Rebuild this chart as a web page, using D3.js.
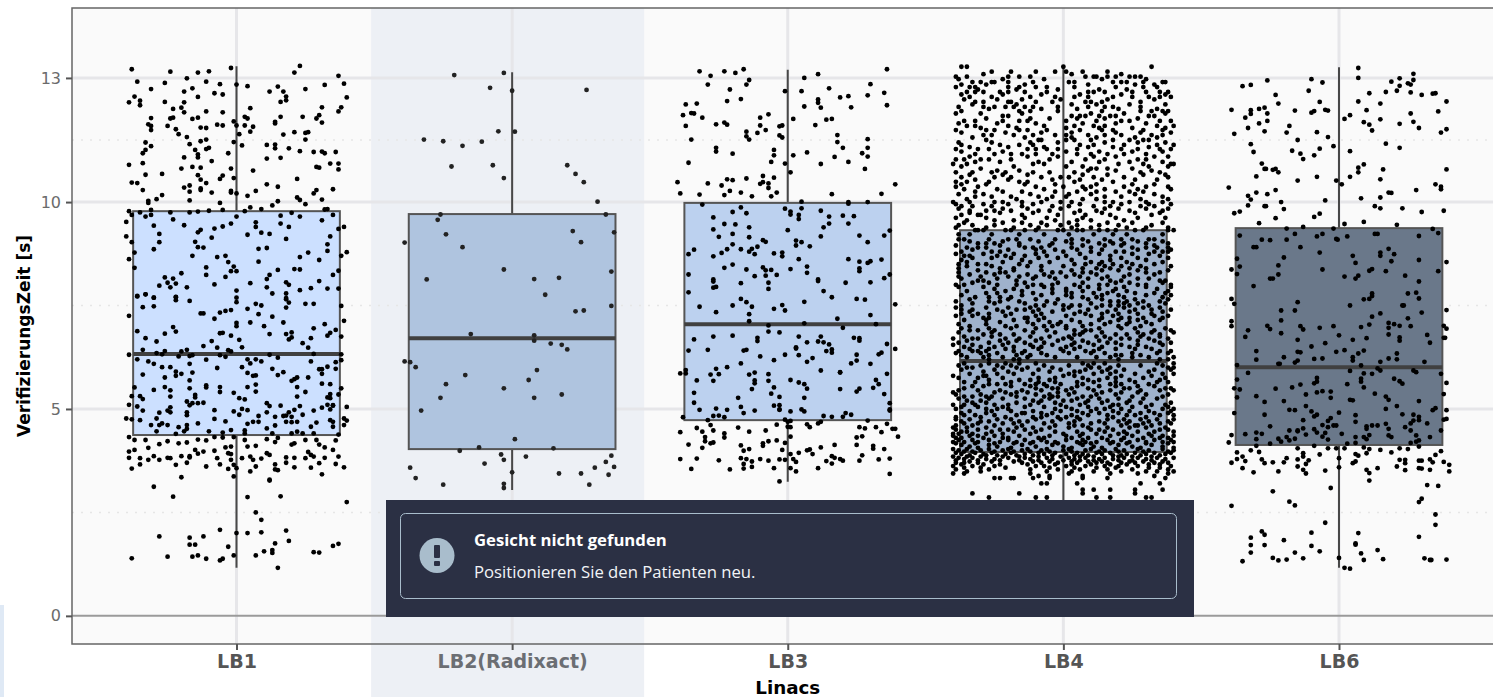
<!DOCTYPE html>
<html>
<head>
<meta charset="utf-8">
<script src="https://cdn.jsdelivr.net/npm/d3@7"></script>
<style>
  html, body { margin: 0; padding: 0; background: #fff; overflow: hidden; }
</style>
</head>
<body>
<div id="chart"></div>
<script>
const categories = ["LB1", "LB2(Radixact)", "LB3", "LB4", "LB6"];
const boxColors = ["#cce0ff", "#afc4df", "#bcd1ef", "#9fb2cc", "#6a788a"];
const lowerQuartiles = [4.37, 4.03, 4.73, 3.96, 4.13];
const medians = [6.33, 6.71, 7.05, 6.16, 6.01];
const upperQuartiles = [9.78, 9.71, 9.98, 9.32, 9.37];
const whiskerLows = [1.16, 3.04, 3.24, 1.2, 1.16];
const whiskerHighs = [13.28, 13.14, 13.2, 13.24, 13.26];
const majorTicks = [0, 5, 10, 13];
const minorTicks = [2.5, 7.5, 11.5];
const yTitle = "VerifizierungsZeit [s]";
const xTitle = "Linacs";
const toastTitle = "Gesicht nicht gefunden";
const toastText = "Positionieren Sie den Patienten neu.";

// [jitter in category widths, seconds]
const pointsLB1 = [[-.38,13.21],[-.24,13.15],[-.14,13.13],[-.10,13.16],[-.02,13.24],[.23,13.29],[.21,13.13],[.37,13.05],[.39,12.86],[-.36,12.91],[-.26,12.88],[-.18,12.99],[-.11,12.91],[-.06,12.85],[0,12.84],[.04,12.8],[-.31,12.73],[-.16,12.75],[-.19,12.67],[-.08,12.63],[-.05,12.6],[.12,12.67],[.15,12.79],[.17,12.67],[.25,12.73],[.32,12.83],[.18,12.55],[.18,12.46],[.16,12.42],[.40,12.53],[-.37,12.55],[-.39,12.41],[-.35,12.45],[-.35,12.34],[-.26,12.42],[-.19,12.41],[-.14,12.54],
[-.23,12.25],[-.20,12.28],[-.19,12.17],[-.11,12.19],[-.05,12.17],[.05,12.27],[.38,12.29],[.37,12.19],[.31,12.29],[.24,12.06],[.30,12.1],[.29,12.02],[.31,11.92],[.16,12.06],[.14,11.94],[.14,11.9],[.03,12.06],[.04,12.02],[-.01,11.95],[0,11.85],[.03,11.85],[.06,11.82],[.05,11.7],[.01,11.64],[.21,11.69],[.25,11.67],[.26,11.69],[.17,11.63],[.25,11.51],[-.31,12.03],[-.32,11.88],[-.31,11.84],[-.31,11.74],[-.24,12.02],[-.23,12.04],[-.25,11.84],[-.22,11.76],[-.21,11.64],[-.16,12.01],[-.14,12.04],[-.13,11.8],[-.11,11.79],[-.07,11.87],[-.05,11.85],[-.18,11.57],[-.13,11.47],[-.11,11.51],[-.17,11.4],[-.33,11.44],[-.31,11.35],[-.33,11.26],[-.34,11.18],[-.15,11.26],[-.11,11.28],[-.1,11.31],[-.01,11.45],[.02,11.37],[-.03,11.18],[-.14,11.15],[-.14,11.08],[-.19,11.08],[-.09,10.99],[-.39,10.9],[-.34,10.94],[-.2,10.81],[-.16,10.85],[-.13,10.83],[-.02,10.81],[.11,11.38],[.14,11.39],[.14,11.3],[.19,11.3],[.23,11.23],[.28,11.21],[.31,11.22],[.32,11.18],[.36,11.21],[.11,11.05],[.16,11.07],[.29,10.85],[.3,10.83],[.34,10.93],[.37,10.93],[.37,10.79],[.06,10.76],[-.27,10.68],[-.33,10.66],[-.38,10.47],[-.36,10.46],[-.34,10.29],[-.14,10.65],[-.13,10.54],[-.11,10.46],[-.06,10.56],[-.05,10.64],[-.01,10.58],[-.19,10.35],[-.17,10.4],[-.17,10.25],[-.13,10.29],[-.13,10.33],[-.09,10.23],[-.27,10.17],[-.29,10.07],[-.32,10.03],[-.32,9.98],[-.17,10.04],[-.02,10.27],[-.02,10.23],[0,10.21],[.11,10.43],[.15,10.37],[.07,10.27],[.04,10.15],[.22,10.56],[.35,10.31],[.29,10.29],[.28,10.21],[.22,10.11],[.23,10.05],[.31,10.06],[.25,9.95],[.15,10.02],[.13,9.92],[-.06,9.98],[.05,9.87],[.09,9.83],
[-.39,9.78],[-.35,9.75],[-.31,9.81],[-.24,9.75],[-.17,9.75],[-.14,9.77],[-.1,9.79],[-.05,9.81],[.03,9.78],[.32,9.82],[.33,9.83],[.2,9.74],[-.38,9.69],[-.33,9.65],[-.31,9.69],[-.23,9.58],[0,9.65],[.16,9.67],[.23,9.65],[.35,9.69],[-.4,9.52],[.31,9.56],[-.02,9.48],[.07,9.51],[.16,9.48],[-.3,9.43],[-.19,9.44],[-.05,9.41],[-.08,9.36],[.07,9.4],[.19,9.4],[.37,9.35],[.39,9.4],[-.13,9.33],[-.14,9.27],[.09,9.26],[.12,9.23],[-.28,9.23],[.04,9.21],[-.4,9.17],[-.09,9.14],[.18,9.11],[.34,9.17],[-.38,9.03],[-.28,9.03],[-.15,9.04],[.33,8.98],[-.14,8.91],[-.12,8.9],[-.3,8.86],[.08,8.87],[.11,8.89],[.33,8.82],[.4,8.79],[.26,8.78],[-.37,8.78],[-.16,8.7],[-.07,8.67],[-.04,8.7],[.23,8.67],[.38,8.7],[-.39,8.62],[.3,8.6],[-.03,8.55],[.08,8.56],[-.01,8.44],[-.37,8.41],[-.11,8.42],[.21,8.38],[.23,8.37],[-.02,8.33],[0,8.33],[.15,8.36],[.37,8.34],[-.2,8.28],[-.11,8.24],[.35,8.24],[.12,8.24],[-.26,8.18],[-.23,8.15],[-.04,8.19],[.11,8.14],[-.25,8.05],[-.22,8.03],[-.08,8.01],[.05,8.04],[.3,8.09],[.18,8.06],[.19,8.0],[-.28,7.98],[-.24,7.94],[-.18,7.94],[.11,7.94],[.27,7.92],[.33,7.91],[.37,7.91],[.23,7.87],[0,7.86],[.13,7.79],[.18,7.79],[-.33,7.77],[-.36,7.72],[-.3,7.69],[-.22,7.71],[0,7.69],[.18,7.68],
[-.36,7.73],[-.33,7.77],[-.3,7.69],[-.22,7.7],[-.22,7.63],[0,7.58],[.18,7.65],[.19,7.57],[-.34,7.46],[-.3,7.48],[-.17,7.61],[.07,7.54],[.09,7.5],[.25,7.54],[.28,7.54],[.18,7.45],[.04,7.42],[-.02,7.39],[-.04,7.37],[-.06,7.33],[-.13,7.31],[-.12,7.31],[.08,7.29],[.13,7.23],[-.39,7.25],[.38,7.49],[.39,7.13],[-.08,7.18],[0,7.08],[0,7.0],[.05,7.09],[.17,7.09],[.32,7.05],[.1,7.0],[.28,6.95],[-.23,6.98],[-.22,6.87],[-.26,6.82],[-.36,6.88],[-.06,6.83],[-.05,6.84],[-.02,6.77],[.01,6.67],[.12,6.81],[.18,6.81],[.2,6.85],[.2,6.73],[.19,6.68],[.34,6.84],[.33,6.77],[.36,6.91],[.38,6.75],[.27,6.71],[.24,6.59],[-.33,6.71],[-.29,6.63],[-.09,6.64],[-.12,6.52],[-.07,6.48],[.02,6.49],[.26,6.48],[-.34,6.43],[-.26,6.4],[-.29,6.35],[-.27,6.32],[-.2,6.39],[-.18,6.43],[-.16,6.3],[-.21,6.27],[-.03,6.42],[-.02,6.39],[-.06,6.3],[-.04,6.26],[.12,6.31],[.15,6.24],[-.39,6.31],[.28,6.33],[.38,6.32],[-.17,6.28],
[-.36,6.2],[-.32,6.15],[-.3,6.09],[-.11,6.19],[.04,6.2],[.07,6.2],[.05,6.1],[.09,6.15],[.27,6.15],[.36,6.13],[.38,6.18],[-.17,6.09],[-.27,6.01],[-.24,6.01],[-.07,5.99],[.02,6.01],[.13,5.97],[.33,6.02],[.36,5.97],[.3,5.96],[.31,5.96],[-.22,5.9],[-.2,5.85],[-.16,5.88],[.04,5.87],[.17,5.89],[.31,5.85],[-.34,5.83],[-.22,5.8],[.06,5.8],[.07,5.81],[.15,5.82],[-.26,5.76],[-.17,5.69],[.26,5.76],[.22,5.76],[.21,5.72],[.2,5.68],[.31,5.61],[.34,5.6],[.07,5.59],[-.11,5.57],[-.11,5.52],[-.37,5.52],[-.06,5.53],[-.26,5.53],[.04,5.53],[-.3,5.46],[-.17,5.5],[.22,5.53],[-.24,5.45],[-.06,5.41],[.07,5.42],[.25,5.41],[.38,5.5],[-.01,5.39],[-.15,5.34],[-.38,5.31],[-.35,5.31],[-.34,5.24],[-.24,5.3],[-.15,5.28],[.22,5.3],[.34,5.36],[.37,5.35],[.01,5.26],[.03,5.23],[.33,5.28],[.34,5.26],[-.18,5.18],[-.12,5.15],[-.16,5.14],[-.14,5.14],[-.17,5.09],[.11,5.14],[.12,5.07],[.16,5.08],[.23,5.07],[-.39,5.1],[.33,5.1],[.35,5.08],[.35,5.09],[.31,5.03],[-.36,5.06],[.4,5.05],[-.24,5.04],[.34,4.99],[-.25,4.96],[-.24,4.92],[-.34,4.96],[-.08,4.97],[-.01,4.94],[.02,5.0],[.04,4.97],[.11,4.92],[.21,4.98],[.28,4.96],[-.28,4.91],[-.18,4.92],[-.18,4.85],[.01,4.86],[.19,4.92],[.24,4.86],[.08,4.83],[.14,4.81],[.17,4.83],[.18,4.84],[.2,4.81],[-.4,4.77],[-.38,4.75],[-.35,4.73],[-.29,4.77],[-.08,4.76],[.34,4.73],[.39,4.77],[.06,4.69],[.08,4.69],[.18,4.69],[.2,4.68],[.22,4.69],[-.04,4.7],[.35,4.69],[.4,4.72],[-.27,4.65],[-.14,4.65],[.04,4.64],[.29,4.67],[-.31,4.61],[-.28,4.61],[-.25,4.61],[-.18,4.61],[.14,4.6],[.39,4.61],[-.21,4.56],[-.18,4.52],[.27,4.57],[.35,4.57],[.11,4.53],[-.02,4.49],[.03,4.48],[-.29,4.46],[-.1,4.46],[-.19,4.46],[-.22,4.4],[-.05,4.43],[.03,4.41],[.13,4.41],[.2,4.41],[.22,4.45],[.24,4.41],[.28,4.41],[.37,4.38],
[-.39,4.32],[-.37,4.25],[-.33,4.25],[-.14,4.26],[-.11,4.24],[-.08,4.32],[-.05,4.31],[-.01,4.32],[.03,4.25],[.11,4.27],[.14,4.2],[.15,4.3],[.25,4.25],[.29,4.25],[.36,4.24],[-.28,4.15],[-.25,4.22],[-.21,4.17],[-.18,4.19],[.2,4.14],[.21,4.17],[.3,4.14],[-.32,4.06],[-.02,4.09],[.04,4.09],[.07,4.11],[.32,4.07],[-.39,3.97],[-.37,4.01],[-.15,4.01],[-.12,3.97],[-.08,3.99],[-.04,4.07],[.35,4.01],[-.03,3.93],[-.02,3.91],[.11,3.93],[.12,3.89],[.26,3.96],[.27,3.89],[-.39,3.82],[-.35,3.81],[-.3,3.86],[-.32,3.77],[-.28,3.77],[-.25,3.82],[-.24,3.81],[-.2,3.86],[-.17,3.83],[-.17,3.86],[-.14,3.92],[-.07,3.81],[-.02,3.77],[.02,3.81],[.05,3.85],[.06,3.77],[.09,3.8],[.18,3.83],[.21,3.82],[.25,3.81],[.28,3.85],[.32,3.82],[.37,3.85],[-.35,3.66],[-.22,3.65],[-.18,3.7],[-.11,3.61],[-.06,3.66],[-.01,3.65],[.07,3.61],[.14,3.66],[.18,3.7],[.21,3.59],[.27,3.58],[.3,3.69],[.36,3.67],[.39,3.59],[-.38,3.56],[-.03,3.55],[0,3.57],[.05,3.49],[.14,3.54],[.15,3.52],[.31,3.42],[-.2,3.35],[-.01,3.37],[.12,3.29],[-.3,3.12],[-.23,2.88],[.04,2.87],[.16,2.89],
[.4,2.75],[.12,3.27],[.07,2.5],[.09,2.32],[-.06,2.08],[.18,2.06],[-.28,1.92],[-.17,1.89],[-.12,1.92],[0,2.0],[.04,2.0],[.09,2.02],[.19,1.81],[.14,1.75],[-.17,1.72],[-.15,1.72],[-.03,1.67],[.37,1.74],[.35,1.69],[.1,1.56],[.13,1.59],[.13,1.52],[.28,1.54],[.3,1.53],[-.25,1.43],[-.16,1.43],[-.14,1.46],[-.11,1.38],[-.01,1.46],[.07,1.46],[-.38,1.39],[-.05,1.38],[-.06,1.34],[.15,1.16]];

const pointsLB2 = [[-.21,13.07],[-.03,13.12],[-.08,12.76],[0,12.69],[.27,12.71],[-.05,11.71],[.01,11.70],[-.32,11.51],[-.25,11.47],[-.18,11.36],[-.11,11.46],[-.22,10.86],[-.07,10.89],[-.03,10.58],[.2,10.89],[.23,10.68],[.26,10.48],[.31,10.01],[-.26,9.70],[.34,9.70],[-.27,9.57],[-.24,9.22],[.22,9.30],[.37,9.27],[-.39,9.02],[.25,9.03],[-.18,8.91],[-.03,8.37],[.36,8.32],[-.31,8.13],[.08,8.14],[.17,8.17],[.12,7.76],[.36,7.49],[.23,7.36],[.26,7.38],[-.15,6.81],[.08,6.78],[.08,6.65],[.14,6.58],[.18,6.55],[.2,6.44],[-.39,6.15],[-.37,6.13],[-.35,6.01],[.09,5.94],[-.17,5.82],[.06,5.70],[-.24,5.60],[-.03,5.50],[-.26,5.27],[.08,5.27],[.18,5.35],[-.33,4.96],[.01,4.27],[-.19,3.99],[-.12,4.07],[.15,4.05],[-.04,3.90],[.05,3.85],[.36,3.87],[-.37,3.58],[-.35,3.33],[-.25,3.17],[-.10,3.68],[-.03,3.77],[0,3.47],[-.03,3.19],[-.03,3.09],[.17,3.44],[.25,3.44],[.30,3.58],[.34,3.72],[.37,3.60],[.35,3.41],[.28,3.17]];

const pointsLB3 = [[-.32,13.16],[-.28,13.05],[-.23,13.16],[-.19,13.12],[-.16,13.21],[-.14,12.95],[-.15,12.84],[-.29,12.84],[-.21,12.72],[-.22,12.44],[-.17,12.49],[-.01,12.68],[.06,13.0],[.11,13.09],[.36,13.21],[.3,12.85],[.15,12.75],[.05,12.68],[.19,12.53],[.22,12.56],[.29,12.58],[.35,12.64],[.36,12.34],[.11,12.48],[.11,12.4],[.12,12.28],[.06,12.31],[.23,12.29],[-.37,12.36],[-.33,12.38],[-.38,12.1],[-.35,12.15],[-.34,12.14],[-.31,12.04],[-.37,11.84],[-.26,11.88],[-.23,11.92],[-.22,11.87],[-.1,12.04],[-.07,12.12],[-.1,11.85],[-.08,11.74],[-.03,11.83],[-.02,11.85],[.02,12.01],[.14,11.99],[.16,12.01],[.1,11.86],[-.15,11.7],[-.15,11.59],[-.11,11.67],[-.14,11.51],[-.03,11.61],[-.02,11.56],[-.35,11.51],[.18,11.62],[.18,11.45],[.29,11.52],[.2,11.31],[.29,11.31],[-.26,11.31],[-.26,11.22],[-.2,11.17],[-.05,11.26],[-.05,11.13],[.07,11.2],[.27,11.18],[.29,11.1],[.02,11.13],[.17,11.09],[-.06,10.97],[-.01,10.93],[.22,10.97],[.12,10.92],[-.36,10.95],[.28,10.8],[.01,10.72],[-.15,10.57],[-.22,10.55],[-.2,10.53],[-.09,10.63],[-.05,10.59],[-.09,10.48],[-.1,10.44],[-.07,10.45],[-.07,10.34],[-.4,10.48],[-.29,10.45],[-.24,10.4],[-.21,10.27],[-.23,10.17],[.39,10.43],[-.17,10.23],[-.04,10.23],[-.06,10.14],[-.13,10.14],[-.39,10.21],[-.32,10.18],[.16,10.19],[.34,10.2],[.05,10.01],[.22,10.0],[.29,10.0],[-.31,9.94],[-.17,9.87],[.22,9.96],[-.01,9.84],[.05,9.85],[-.2,9.76],[-.15,9.73],[.01,9.77],[.01,9.7],[.04,9.69],[.12,9.79],[.15,9.65],[.2,9.67],[.24,9.66],[-.27,9.63],[.04,9.59],[-.23,9.47],[-.19,9.46],[.15,9.48],[.22,9.48],[-.14,9.39],[.13,9.39],[-.27,9.34],[0,9.32],[.37,9.31],[-.2,9.23],[-.25,9.16],[-.14,9.15],[.12,9.17],[.26,9.19],[.35,9.19],[-.09,9.08],[-.08,9.04],[.03,9.07],[.05,9.03],[.29,9.03],[-.2,8.98],[.03,8.95],[.08,8.93],[-.11,8.92],[-.34,8.85],[-.22,8.86],[-.17,8.86],[-.13,8.87],[-.14,8.8],[-.12,8.74],[-.24,8.77],[-.05,8.76],[-.02,8.78],[-.02,8.69],[-.36,8.74],[-.27,8.69],[.04,8.62],[.22,8.62],[.26,8.56],[.29,8.53],[.3,8.57],[.34,8.61],[-.2,8.49],[-.23,8.41],[-.15,8.37],[-.09,8.42],[-.08,8.35],[-.06,8.36],[.01,8.38],[.07,8.44],[.07,8.29],[.26,8.4],[.26,8.33],[-.36,8.25],[-.12,8.21],[-.08,8.22],[-.04,8.24],[.37,8.25],[.35,8.16],[.11,8.13],[-.27,8.13],
[-.27,8.08],[-.17,8.04],[-.07,8.05],[.11,8.09],[.21,8.05],[.3,8.06],[-.27,7.93],[-.26,7.95],[-.07,7.9],[-.36,7.82],[.13,7.85],[.16,7.7],[-.17,7.66],[.25,7.66],[.28,7.64],[-.15,7.58],[.06,7.59],[-.13,7.47],[-.2,7.5],[-.32,7.47],[-.02,7.51],[-.05,7.42],[-.01,7.38],[.39,7.53],[-.26,7.34],[-.14,7.29],[.3,7.27],[.18,7.18],[-.14,7.12],[.06,7.07],[.32,7.05],[-.07,7.02],[.2,6.96],[-.07,6.87],[-.03,6.85],[-.34,6.68],[-.27,6.75],[-.2,6.77],[-.11,6.72],[-.11,6.64],[.04,6.75],[.12,6.75],[.07,6.61],[.11,6.63],[.13,6.61],[.15,6.56],[.24,6.72],[.26,6.71],[.26,6.65],[.36,6.57],[.39,6.45],[.03,6.49],[.03,6.46],[.14,6.4],[.16,6.44],[.16,6.36],[-.36,6.41],[-.29,6.43],[-.16,6.41],[-.15,6.43],[-.01,6.31],[.04,6.3],[-.1,6.27],[.34,6.36],[.33,6.32],[.25,6.31],[-.05,6.18],[.07,6.14],[.09,6.23],[.25,6.17],[.23,6.1],[.3,6.09],[-.17,6.1],[-.22,6.01],[-.26,5.97],[.12,5.93],[-.39,5.86],[-.37,5.94],[-.37,5.86],[-.28,5.83],[-.25,5.84],[-.12,5.88],[-.14,5.83],[-.07,5.84],[.19,5.89],[.19,5.88],[.36,5.85],[-.33,5.69],[-.27,5.68],[-.12,5.69],[-.12,5.62],[-.07,5.68],[.01,5.7],[.04,5.64],[.06,5.6],[.32,5.7],[.33,5.6],[.31,5.51],[.07,5.49],[-.05,5.52],[.19,5.48],[.26,5.49],[.25,5.42],[-.13,5.48],[-.34,5.39],[-.06,5.37],[.35,5.36],[-.18,5.27],[-.03,5.29],[.06,5.27],[-.34,5.15],[.37,5.14],[-.05,5.08],[-.17,5.05],[-.03,5.09],[-.03,4.99],[-.03,4.98],[-.26,5.01],[-.22,4.98],[-.32,4.98],[-.12,4.96],[.05,4.99],[.06,4.94],[.01,4.94],[.37,4.99],[.37,4.96],[-.16,4.9],[-.27,4.83],[-.25,4.84],[-.23,4.8],[.13,4.83],[.16,4.81],[.21,4.9],[.2,4.81],[.23,4.86],[-.38,4.8],[-.29,4.73],[-.01,4.74],[.01,4.71],[.29,4.72],[0,4.69],[-.04,4.62],[-.28,4.61],[.07,4.63],[.11,4.65],[.12,4.69],[.36,4.64],[-.33,4.54],[-.18,4.55],[0,4.57],[.01,4.56],[.08,4.56],[.26,4.56],[.32,4.56],[-.31,4.45],[-.27,4.48],[-.14,4.45],[-.08,4.48],[-.39,4.44],[.28,4.53],[.34,4.44],[.38,4.52],[.39,4.52],[-.23,4.41],[.4,4.33],[-.3,4.32],[-.23,4.31],[.01,4.33],[.25,4.31],[.27,4.34],[-.3,4.22],[-.28,4.17],[-.27,4.19],[-.04,4.24],[-.07,4.22],[-.09,4.17],[-.01,4.18],[-.36,4.14],[-.17,4.12],[-.09,4.11],[.17,4.13],[.25,4.13],[.31,4.11],[-.31,4.06],[-.16,3.99],[-.14,4.03],[-.02,4.01],[.12,4.07],[.31,4.04],[.35,4.03],[.07,4.0],[.08,4.02],[.09,3.91],[.01,3.91],[.04,3.94],[.27,3.88],[-.39,3.79],[-.33,3.8],[-.25,3.76],[-.17,3.81],[-.15,3.79],[-.13,3.73],[-.1,3.79],[-.07,3.75],[-.03,3.78],[-.01,3.77],[.02,3.79],[.03,3.72],[.16,3.86],[.17,3.82],[.19,3.79],[.2,3.75],[.14,3.74],[.16,3.68],[.26,3.75],[.33,3.78],[.37,3.8],[-.16,3.67],[-.13,3.6],[-.16,3.56],[-.35,3.55],[-.21,3.54],[-.05,3.57],[.01,3.57],[.11,3.57],[.03,3.49],[.37,3.43],[-.03,3.25]];

const pointsLB6 = [[.07,13.24],[.07,13.0],[-.1,12.97],[-.26,12.94],[-.06,12.89],[-.35,12.8],[-.32,12.83],[-.11,12.69],[.27,13.1],[.22,12.99],[.19,12.91],[.27,12.95],[.25,12.87],[.26,12.84],[.22,12.81],[.21,12.69],[.17,12.66],[.11,12.63],[.26,12.65],[.3,12.59],[.34,12.62],[.35,12.63],[-.23,12.59],[-.22,12.38],[-.07,12.42],[.07,12.43],[.15,12.38],[.39,12.43],[-.39,12.23],[-.32,12.22],[-.29,12.25],[-.27,12.28],[-.32,12.13],[-.26,12.14],[-.16,12.21],[-.1,12.16],[-.09,12.2],[-.05,12.23],[-.04,12.21],[.1,12.22],[.36,12.19],[.26,12.14],[-.34,12.04],[.04,12.1],[.02,12.01],[.15,12.0],[-.26,11.96],[-.29,11.9],[.09,11.93],[.11,11.87],[.27,11.94],[.22,11.89],[.29,11.79],[-.18,11.84],[-.33,11.79],[-.27,11.71],[-.19,11.68],[-.08,11.69],[.12,11.73],[.37,11.68],[.39,11.76],[-.38,11.65],[-.04,11.57],[-.15,11.5],[-.32,11.4],[.17,11.41],[-.02,11.35],[.22,11.31],[-.07,11.29],[-.17,11.24],[-.31,11.21],[.04,11.23],[-.14,11.17],[-.09,11.13],[-.13,11.04],[-.28,10.93],[.09,10.91],[-.27,10.8],[-.265,10.8],[-.24,10.78],[-.23,10.8],[-.22,10.72],[.07,10.83],[.07,10.72],[.16,10.79],[.39,10.79],[-.3,10.62],[-.08,10.61],[.04,10.61],[-.15,10.52],[-.01,10.52],[.15,10.55],[.01,10.43],[.35,10.43],[.37,10.37],[.37,10.31],[-.4,10.35],[-.23,10.29],[.28,10.29],[-.3,10.23],[-.26,10.19],[.18,10.23],[.19,10.22],[-.33,10.15],[-.32,10.06],[.08,10.09],[.15,10.11],[-.05,10.04],[-.21,10.0],[-.33,9.92],[-.27,9.9],[-.265,9.9],[-.2,9.83],[.13,9.9],[.15,9.85],[.23,9.85],[.38,9.79],[.3,9.76],[-.38,9.73],[-.36,9.77],[-.07,9.72],[-.09,9.64],[-.23,9.61],[.09,9.52],[-.29,9.49],[.02,9.47],[-.13,9.4],[.21,9.45],[-.19,9.36],[-.02,9.36],[.34,9.35],[-.36,9.19],[-.16,9.23],[-.08,9.17],[-.06,9.23],[.03,9.17],[.13,9.23],[.14,9.23],[.29,9.18],[.36,9.25],[-.28,9.09],[-.25,9.08],[-.19,9.09],[-.01,9.11],[-.005,9.09],[-.31,8.91],[-.3,8.91],[-.14,8.91],[.18,8.87],[-.07,8.78],[.15,8.78],[.15,8.7],[.2,8.74],[.05,8.7],[-.37,8.63],[-.2,8.66],[.19,8.57],[.29,8.6],[.39,8.55],[.06,8.53],[-.22,8.47],[-.36,8.44],[-.39,8.37],[-.06,8.37],[.12,8.38],[.11,8.34],[.17,8.33],[.36,8.33],[-.37,8.26],[-.22,8.25],[.02,8.2],[.07,8.22],[.24,8.22],[-.25,8.15],[-.24,8.15],[.06,8.15],
[-.31,7.97],[.29,8.08],[-.39,7.66],[-.38,7.54],[.25,7.79],[.28,7.81],[.29,7.67],[.12,7.79],[.12,7.73],[.11,7.66],[.09,7.65],[-.15,7.58],[.04,7.5],[.23,7.5],[.235,7.5],[-.21,7.38],[-.16,7.38],[.39,7.39],[.3,7.33],[.15,7.31],[.12,7.23],[-.39,7.12],[-.39,7.0],[-.21,7.14],[.25,7.19],[-.26,7.01],[.18,7.08],[.2,7.05],[.11,7.04],[-.25,6.93],[-.14,7.0],[-.13,6.92],[-.07,6.96],[-.02,7.0],[.08,6.98],[.18,6.96],[.22,7.01],[.26,7.0],[.38,7.01],[.39,6.94],[-.33,6.9],[-.21,6.83],[.18,6.8],[0,6.78],[.32,6.79],[-.34,6.74],[.1,6.71],[.22,6.73],[.22,6.65],[.38,6.72],[.385,6.72],[-.15,6.67],[.05,6.67],[-.05,6.59],[.33,6.6],[-.1,6.51],[-.01,6.38],[.02,6.42],[-.3,6.4],[-.15,6.38],[-.14,6.37],[.09,6.41],[.07,6.34],[.21,6.34],[-.2,6.25],[-.3,6.19],[-.15,6.17],[-.09,6.21],[-.06,6.22],[.05,6.25],[.05,6.17],[.18,6.22],[.21,6.2],[.15,6.14],[.31,6.14],[-.22,6.09],[-.215,6.09],[-.16,6.12],[-.37,6.06],[.08,6.05],[.14,5.98],[.04,5.92],[.15,5.93],[.27,5.93],[.28,5.89],[-.33,5.87],[.09,5.86],[.12,5.85],[.37,5.85],[-.08,5.75],[-.37,5.71],[.08,5.73],[-.08,5.66],[-.09,5.62],[.2,5.73],[.08,5.66],[.22,5.67],[.23,5.61],[.03,5.6],[-.14,5.59],[.39,5.63],[-.17,5.52],[.09,5.52],[-.38,5.5],[-.36,5.47],[-.23,5.49],[-.08,5.4],[-.06,5.43],[-.03,5.42],[-.12,5.35],[.13,5.37],[.38,5.36],[-.3,5.31],[-.37,5.28],[-.03,5.27],[.17,5.3],[.18,5.22],[.04,5.22],[.05,5.21],[-.27,5.17],[-.2,5.19],[.29,5.19],[-.12,5.07],[.21,5.07],[-.18,4.98],[-.16,4.97],[-.1,4.94],[.17,5.0],[.34,4.97],[.35,5.02],[.39,4.97],[0,4.91],[-.38,4.9],[-.27,4.86],[-.08,4.86],[-.09,4.82],[.06,4.85],[.23,4.87],[.27,4.86],[-.03,4.78],[.29,4.81],[-.13,4.73],[-.04,4.71],[.06,4.69],[.29,4.73],[.27,4.72],[.38,4.74],[.39,4.76],[.26,4.65],[.32,4.65],[-.06,4.61],[-.25,4.58],[-.04,4.56],[-.02,4.6],[-.01,4.6],[.1,4.58],[.12,4.6],[.14,4.6],[.17,4.64],[.24,4.56],[.1,4.52],[-.13,4.53],[-.09,4.51],[.18,4.52],[-.18,4.48],[-.15,4.48],[-.15,4.46],[.26,4.48],[-.05,4.42],[-.08,4.43],[.37,4.48],[-.3,4.43],[-.28,4.4],[-.34,4.39],[-.12,4.38],[.01,4.4],[.11,4.37],[-.39,4.37],[.28,4.36],[.18,4.36],[-.19,4.32],[-.22,4.28],[-.3,4.27],[-.18,4.24],[-.16,4.28],[-.06,4.33],[-.04,4.26],[.06,4.32],[.09,4.32],[.1,4.27],[.19,4.32],[.33,4.32],[-.21,4.21],[-.4,4.19],[-.25,4.16],[.06,4.18],[.03,4.16],[.29,4.24],[.28,4.21],[.26,4.18],
[-.37,3.95],[-.32,4.0],[-.3,4.11],[-.29,3.96],[-.15,4.05],[-.09,4.11],[-.07,3.9],[-.04,4.05],[-.01,4.05],[.02,4.05],[.09,4.07],[.11,4.03],[.15,4.01],[.22,4.05],[.25,4.03],[.29,4.09],[.37,3.98],[.1,3.93],[.06,3.91],[.07,3.87],[.19,3.95],[-.13,3.93],[-.35,3.85],[-.37,3.79],[-.13,3.85],[-.19,3.81],[-.15,3.78],[.35,3.89],[0,3.81],[-.39,3.7],[-.34,3.74],[-.28,3.78],[-.27,3.69],[-.24,3.71],[-.2,3.71],[-.12,3.67],[-.11,3.76],[.05,3.69],[.06,3.73],[.22,3.77],[.24,3.77],[.24,3.69],[.29,3.75],[.3,3.75],[.33,3.78],[.34,3.71],[.38,3.72],[.4,3.65],[-.35,3.57],[-.31,3.47],[-.22,3.49],[-.15,3.61],[-.13,3.53],[-.12,3.44],[-.05,3.51],[0,3.59],[.14,3.57],[.1,3.53],[.11,3.45],[.21,3.61],[.24,3.52],[.29,3.57],[.3,3.56],[.33,3.53],[.4,3.49],[.11,3.27],[.32,3.16],[.36,3.14],[-.03,3.09],[-.24,3.01],[.3,2.83],[.29,2.75],[-.18,2.76],[-.16,2.67],[-.39,2.66],[.35,2.45],[-.05,2.25],[.35,2.2],[-.28,2.04],[-.1,2.01],[.07,2.0],[-.27,1.96],[-.32,1.89],[.29,1.91],[-.2,1.83],[-.32,1.71],[-.27,1.71],[-.1,1.69],[.06,1.72],[.06,1.75],[.14,1.59],[-.32,1.53],[-.16,1.53],[-.07,1.56],[.08,1.51],[-.24,1.4],[-.13,1.39],[0,1.4],[.09,1.35],[.16,1.37],[.31,1.39],[.33,1.35],[.335,1.35],[.39,1.36],[-.22,1.34],[-.19,1.36],[-.35,1.32],[.02,1.16],[.04,1.14]];

// LB4 is too dense for pairs: one row per value, then the jitters read at it
const rowsLB4 = [
[13.27,[-.37,-.35,0,.32]],[13.15,[-.26,-.19,-.1,-.03,.01,.07,.16]],[13.03,[-.39,-.35,-.2,-.16,-.12,.08,.11,.12,.16,.19,.24,.26,.28]],[12.9,[-.33,-.3,-.26,-.25,-.2,-.11,.02,.04,.18,.21,.23,.29,.36,.37]],[12.78,[-.39,-.34,-.32,-.2,-.16,-.1,-.06,.04,.19,.29,.34]],[12.66,[-.35,-.32,-.29,-.23,-.2,-.14,-.06,.09,.11,.15,.25,.3,.35,.38]],[12.54,[-.34,-.26,-.12,-.03,.04,.09,.18,.25,.31,.35,.39]],[12.42,[-.32,-.29,-.2,-.19,-.1,-.04,.08,.1,.14,.28]],[12.3,[-.38,-.29,-.25,-.21,-.18,-.14,-.11,-.02,.09,.15,.18,.28]],[12.2,[-.37,-.16,-.12,-.02,.14,.28,.32,.36,.38]],[12.08,[-.22,-.2,.03,.06,.08,.13,.17,.19,.31,.33]],[11.96,[-.36,-.32,-.22,-.16,-.13,.01,.12,.21,.24,.35,.39]],[11.84,[-.35,-.32,-.2,-.07,.04,.11,.15,.34,.4]],[11.74,[-.39,-.28,-.25,-.16,-.13,-.06,.06,.14,.18,.29,.36]],[11.62,[-.29,-.26,-.18,-.11,-.03,.01,.09,.15,.21,.32,.36]],[11.5,[-.28,-.09,-.08,.01,.04,.1,.18,.24,.29,.31]],[11.38,[-.37,-.23,-.16,-.11,.06,.11,.22,.34,.4]],[11.28,[-.39,-.31,-.27,-.13,-.1,-.06,-.02,.05,.21,.27,.35,.39]],[11.16,[-.32,-.25,-.19,-.15,-.1,-.04,.05,.1,.16,.22,.3]],[11.03,[-.39,-.36,-.3,-.27,-.19,-.05,.08,.15,.27,.3]],[10.92,[-.4,-.35,-.11,-.07,.2,.29,.39,.4]],[10.81,[-.3,.1,.12,.16,.25]],[10.72,[-.39,-.33,-.26,-.21,-.11,-.05,.04,.28,.35]],[10.6,[-.37,-.25,-.19,-.08,-.01,.02,.11,.22,.38]],[10.49,[-.39,-.35,-.27,-.16,-.13,.04,.18]],[10.37,[-.39,-.31,-.1,0,.07,.1,.22,.3,.38]],[10.25,[-.32,-.22,-.15,-.03,.05,.12,.19,.24,.29]],[10.13,[-.32,-.26,-.19,-.09,-.04,.01,.15,.21,.36]],[10.0,[-.4,-.34,-.25,-.22,-.15,-.08,-.01,.03,.15,.18,.24,.3,.36]],[9.9,[-.37,-.33,-.26,-.15,-.04,.02,.11,.17,.28,.33]],[9.79,[-.34,-.28,-.25,-.19,-.09,-.05,.06,.12,.24,.36]],[9.69,[-.37,-.31,-.3,-.15,-.02,.08,.17,.32]],[9.56,[-.35,-.25,-.18,-.03,.05,.1,.22]],[9.44,[-.38,-.33,-.25,-.12,-.06,-.01,.05,.13,.2,.32]],
[9.32,[-.32,-.31,-.29,-.21,-.19,-.14,-.1,-.02,0,.05,.07,.13,.16,.19,.26,.29,.38,.4]],[9.1,[-.38,-.36,-.27,-.2,-.17,-.12,-.03,.03,.07,.15,.21,.25,.31,.33]],[9.0,[-.31,-.28,-.25,-.16,-.04,.03,.13,.18,.22,.3,.38]],[8.9,[-.35,-.31,-.28,-.14,-.11,-.08,.03,.1,.25,.3,.34,.38]],[8.8,[-.37,-.26,-.23,-.07,0,.1,.19,.22,.33,.36,.38]],[8.7,[-.36,-.34,-.24,-.21,-.14,-.06,.01,.17,.35]],[8.6,[-.37,-.15,.03,.17,.3]],[8.5,[-.38,-.31,-.28,-.16,.04,.08,.13,.18,.25,.33]],[8.4,[-.38,-.23,-.18,.07,.12,.17,.24,.3]],[8.3,[-.38,-.28,-.23,-.21,-.04,-.01,.07,.1,.3,.35]],[8.2,[-.38,-.3,-.2,-.16,-.1,-.05,.01,.06,.16,.22]],[8.1,[-.31,-.29,-.17,.17,.21,.35,.37]],[8.0,[-.39,-.36,-.24,-.17,-.11,-.08,-.04,.04,.13,.16,.27,.3,.39]],[7.9,[-.25,-.18,-.04,.01,.13,.19,.34]],[7.8,[-.28,-.24,-.11,-.04,.03,.11,.16,.26,.33,.37]],[7.7,[-.32,-.27,-.23,-.19,.03,.07,.12,.22,.36]],[7.6,[-.39,-.27,-.23,-.16,-.06,.17,.2,.23,.29,.35]],[7.5,[-.37,-.1,-.07,0,.03,.06,.14,.17,.2,.24,.31]],[7.4,[-.37,-.33,-.24,-.17,-.14,-.09,0,.09,.19,.26,.32,.39]],[7.3,[-.37,-.31,-.27,-.19,-.08,.04,.08,.14,.2,.27,.32]],[7.2,[-.29,-.27,-.14,-.13,-.07,.14,.21,.24,.29,.36]],[7.1,[-.23,-.13,-.05,-.01,.06,.17,.24,.3]],[7.0,[-.34,-.21,-.17,-.07,-.04,.01,.07,.2,.28]],[6.9,[-.34,-.31,-.25,-.14,-.06,.04,.08,.1,.33,.39]],[6.8,[-.29,-.23,-.18,.04,.06,.19,.23,.29,.35]],[6.7,[-.4,-.33,-.31,-.21,-.16,-.08,0,.03,.17,.21,.24,.31,.38]],[6.6,[-.38,-.27,-.2,-.14,-.07,.04,.09,.16,.19,.35,.39]],[6.5,[-.36,-.3,-.25,-.18,-.11,-.08,.01,.06,.14,.24,.3]],[6.4,[-.38,-.33,-.31,-.28,-.18,-.14,0,.08,.11,.35,.39]],[6.3,[-.37,-.27,-.17,-.12,-.06,.19,.21,.28]],[6.2,[-.27,-.18,-.16,.2,.35,.38]],[6.1,[-.36,-.27,-.21,-.16,-.1,.07,.11,.15,.34,.4]],[6.0,[-.35,-.33,-.22,-.17,-.13,-.04,.1,.13,.17,.38,.4]],[5.9,[-.29,-.2,-.05,.04,.06,.14,.19,.31]],[5.8,[-.4,-.29,-.28,0,.04,.21,.32]],[5.7,[-.27,-.16,-.12,-.05,.09,.13,.24,.35]],[5.6,[-.27,-.24,-.21,-.14,-.1,-.07,-.01,.07,.17,.21,.31]],[5.5,[-.36,-.1,-.04,-.02,.03,.09,.22,.24,.37,.39]],[5.4,[-.4,-.25,-.21,-.17,-.13,-.02,.04,.14,.21,.27]],[5.3,[-.36,-.33,-.28,-.26,-.17,-.07,-.04,-.02,.07,.1,.25,.36]],[5.2,[-.35,-.3,-.11,-.08,0,.03,.09,.16,.24]],[5.1,[-.4,-.36,-.32,-.25,-.2,-.12,-.01,.06,.18,.2,.32,.37]],[5.0,[-.39,-.28,-.24,-.2,-.03,.03,.12,.15,.21,.36,.4]],[4.9,[-.37,-.28,-.15,-.14,-.08,-.04,.07,.13,.2,.28,.33,.38]],[4.8,[-.39,-.3,-.21,-.11,-.08,-.02,.01,.05,.18,.3]],[4.7,[-.37,-.3,-.27,-.16,-.13,-.04,.04,.13,.2,.24,.31,.38]],[4.6,[-.39,-.33,-.25,-.15,-.03,.04,.07,.21,.26,.27,.32]],[4.5,[-.39,-.31,-.23,-.2,-.14,-.08,.1,.13,.18,.35,.38]],[4.4,[-.4,-.38,-.33,-.28,-.22,-.12,0,.07,.12,.2,.23,.31]],[4.3,[-.39,-.37,-.29,-.22,-.2,-.09,-.07,.03,.09,.14,.22,.29,.35,.38]],[4.2,[-.4,-.36,-.31,-.23,-.17,-.11,-.06,-.03,.05,.08,.12,.18,.24,.3,.36,.4]],
[4.13,[-.37,-.27,-.15,-.04,.07,.2,.32]],[4.09,[-.34,-.24,-.1,0,.11,.25,.36]],[4.06,[-.31,-.19,.03,.14,.28,.4]],
[4.03,[-.4,-.35,-.27,-.2,-.13,-.06,.02,.1,.19,.27,.36]],[4.0,[-.38,-.3,-.22,-.15,-.08,0,.08,.15,.22,.31,.4]],[3.97,[-.36,-.33,-.25,-.18,-.12,-.05,.03,.13,.2,.29,.38]],[3.94,[-.39,-.32,-.26,-.19,-.09,-.03,.05,.12,.17,.26,.33,.39]],[3.91,[-.37,-.29,-.21,-.14,-.07,.01,.07,.14,.23,.3,.37]],[3.88,[-.34,-.28,-.24,-.17,-.11,-.04,.04,.09,.18,.21,.28,.35]],[3.85,[-.4,-.35,-.3,-.22,-.16,-.09,-.01,.06,.11,.2,.25,.32]],[3.82,[-.38,-.33,-.2,-.14,-.06,.02,.08,.15,.22,.27,.34,.4]],[3.79,[-.36,-.28,-.25,-.12,-.04,.04,.13,.18,.3,.37]],[3.76,[-.39,-.31,-.23,-.16,-.09,0,.06,.11,.2,.25,.32]],[3.73,[-.34,-.26,-.18,-.11,-.05,.03,.09,.14,.24,.29,.36]],[3.7,[-.39,-.36,-.31,-.15,-.08,-.02,.05,.12,.16,.21,.26,.33,.38]],[3.66,[-.37,-.29,-.23,-.13,-.03,.03,.1,.17,.23,.31,.35]],[3.62,[-.4,-.33,-.25,-.1,-.07,.01,.08,.15,.2,.27,.39]],[3.58,[-.36,-.3,-.21,-.05,.04,.12,.19,.31,.35]],[3.54,[-.39,-.27,-.12,-.02,.06,.16,.25,.38]],[3.49,[-.35,-.3,-.06,.03,.11,.21,.3,.34,.4]],[3.44,[-.4,-.36,-.12,.02,.17,.27,.38]],[3.38,[-.09,-.05,.07,.33]],
[3.33,[-.25,-.23,-.19,-.18,-.11,-.05,.07,.16,.37]],[3.2,[-.08,-.06,.05,.28,.35]],[3.05,[.07,.11,.17,.26,.36]],[2.96,[-.33,-.16,.07,.26]],[2.86,[-.27,-.1,-.06,.12,.17,.3,.32]]
];

// second pass over LB4, the points that sit between the rows above
const rowsLB4Between = [
[13.09,[-.29,.03,.21]],[12.97,[-.38,-.22,-.07,.14,.3]],[12.84,[-.37,-.28,-.14,.09,.26,.33]],[12.72,[-.31,-.17,-.02,.13,.23]],[12.6,[-.37,-.22,-.08,.06,.21,.37]],[12.48,[-.36,-.24,-.15,-.01,.16,.33]],[12.36,[-.33,-.17,.03,.12,.24,.37]],[12.25,[-.27,-.08,.05,.2,.34]],[12.14,[-.39,-.3,-.15,.1,.22,.37]],[12.02,[-.28,-.12,-.05,.05,.15,.27]],[11.9,[-.38,-.24,-.1,.07,.19,.3]],[11.79,[-.3,-.17,.01,.13,.25,.37]],[11.68,[-.37,-.21,-.08,.03,.19,.28,.39]],[11.56,[-.33,-.14,.03,.12,.26,.34]],[11.44,[-.38,-.26,-.12,-.02,.15,.27,.37]],[11.33,[-.34,-.2,-.07,.09,.18,.31]],[11.22,[-.37,-.22,.01,.13,.25,.36]],[11.1,[-.34,-.13,-.02,.11,.19,.33,.38]],[10.97,[-.32,-.23,-.09,.03,.13,.24,.36]],[10.86,[-.37,-.18,.01,.07,.31,.38]],[10.76,[-.24,-.16,.09,.19,.32]],[10.66,[-.34,-.22,-.13,.07,.16,.29,.37]],[10.54,[-.32,-.2,-.04,.06,.14,.26,.34]],[10.43,[-.37,-.28,-.14,-.03,.12,.25,.33]],[10.31,[-.36,-.24,-.07,.08,.15,.27,.39]],[10.19,[-.38,-.29,-.12,.02,.1,.26,.33]],[10.07,[-.35,-.17,-.06,.07,.12,.28,.38]],[9.95,[-.39,-.29,-.2,-.11,.06,.21,.31,.39]],[9.84,[-.38,-.22,-.13,-.01,.15,.2,.3,.38]],[9.74,[-.34,-.23,-.11,.04,.14,.26,.35]],[9.62,[-.39,-.28,-.14,-.06,.07,.19,.27,.37]],[9.5,[-.36,-.22,-.15,-.08,.02,.16,.25,.36]],[9.38,[-.39,-.28,-.18,-.09,.03,.1,.23,.3,.38]],
[9.22,[-.38,-.34,-.26,-.16,-.07,.02,.11,.18,.23,.36]],[9.05,[-.34,-.22,-.09,.01,.09,.17,.27,.36]],[8.95,[-.39,-.23,-.16,-.05,.07,.15,.21,.33]],[8.85,[-.33,-.2,-.1,-.03,.05,.14,.27,.39]],[8.75,[-.39,-.29,-.18,-.1,.06,.13,.25,.31]],[8.65,[-.33,-.26,-.19,-.09,-.02,.08,.21,.27,.38]],[8.55,[-.35,-.22,-.12,-.05,.1,.14,.23,.36]],[8.45,[-.35,-.26,-.13,-.08,0,.15,.21,.28,.39]],[8.35,[-.31,-.18,-.08,.03,.14,.2,.27,.38]],[8.25,[-.34,-.25,-.13,-.07,.04,.12,.24,.33]],[8.15,[-.37,-.24,-.11,-.03,.09,.14,.27,.31]],[8.05,[-.33,-.27,-.14,-.02,.07,.19,.24,.36]],[7.95,[-.38,-.29,-.13,-.07,.06,.09,.22,.3,.39]],[7.85,[-.35,-.21,-.15,.01,.07,.18,.23,.38]],[7.75,[-.37,-.15,-.08,.01,.14,.2,.3,.39]],[7.65,[-.34,-.2,-.1,-.02,.09,.14,.26,.38]],[7.55,[-.33,-.25,-.14,-.03,.1,.22,.27,.37]],[7.45,[-.39,-.28,-.2,-.12,.02,.12,.22,.29,.35]],[7.35,[-.34,-.22,-.11,-.04,.06,.16,.24,.36]],[7.25,[-.39,-.33,-.21,-.1,.01,.1,.18,.33,.38]],[7.15,[-.36,-.28,-.18,-.09,.03,.13,.2,.27,.35]],[7.05,[-.38,-.28,-.11,-.02,.1,.15,.23,.32]],[6.95,[-.37,-.27,-.19,-.1,.01,.13,.21,.26,.37]],[6.85,[-.38,-.26,-.11,-.03,.07,.14,.27,.32,.4]],[6.75,[-.36,-.26,-.12,-.05,.02,.12,.15,.28,.35]],[6.65,[-.35,-.23,-.17,-.1,-.02,.07,.13,.27,.33]],[6.55,[-.4,-.33,-.22,-.12,-.04,.03,.11,.21,.27,.36]],[6.45,[-.34,-.27,-.21,-.09,-.01,.04,.13,.19,.26,.32]],[6.35,[-.39,-.3,-.24,-.15,-.08,.02,.1,.15,.25,.34,.38]],[6.25,[-.35,-.29,-.22,-.13,-.03,.05,.12,.17,.25,.31,.4]],[6.05,[-.38,-.3,-.24,-.19,-.07,.02,.09,.2,.28,.36]],[5.95,[-.37,-.25,-.15,-.09,-.01,.08,.16,.22,.33,.39]],[5.85,[-.34,-.24,-.18,-.11,.02,.11,.17,.26,.36,.4]],[5.75,[-.38,-.31,-.22,-.09,-.03,.07,.16,.19,.29,.37]],[5.65,[-.36,-.32,-.19,-.09,-.03,.05,.11,.19,.26,.34,.38]],[5.55,[-.33,-.29,-.19,-.12,-.06,.05,.13,.19,.27,.33]],[5.45,[-.38,-.31,-.23,-.15,-.08,.01,.11,.17,.28,.35,.4]],[5.35,[-.39,-.3,-.19,-.1,-.05,.02,.12,.19,.3,.38]],[5.25,[-.38,-.27,-.22,-.14,-.05,.05,.13,.2,.29,.34]],[5.15,[-.33,-.28,-.17,-.09,-.03,.08,.14,.23,.28,.39]],[5.05,[-.37,-.31,-.22,-.14,-.07,.01,.09,.17,.25,.3,.38]],[4.95,[-.34,-.26,-.19,-.11,-.01,.05,.1,.18,.24,.31,.39]],[4.85,[-.36,-.32,-.25,-.17,-.06,.03,.09,.16,.23,.26,.35,.4]],[4.75,[-.39,-.34,-.24,-.19,-.1,-.01,.06,.16,.22,.28,.34,.4]],[4.65,[-.36,-.31,-.22,-.18,-.07,.02,.1,.15,.23,.29,.35,.39]],[4.55,[-.4,-.35,-.28,-.17,-.11,-.05,.02,.09,.16,.24,.3,.37]],[4.45,[-.37,-.35,-.26,-.18,-.1,-.03,.05,.15,.22,.27,.33,.4]],[4.35,[-.4,-.34,-.31,-.25,-.16,-.05,.01,.06,.17,.25,.32,.36,.4]],[4.25,[-.38,-.33,-.27,-.2,-.14,-.08,.01,.07,.16,.21,.27,.33,.39]],[4.17,[-.39,-.32,-.25,-.18,-.12,-.02,.06,.1,.17,.23,.3,.38]]
];

const pointsLB4 = rowsLB4.concat(rowsLB4Between)
  .flatMap(([value, jitters]) => jitters.map(jitter => [jitter, value]));
const pointSeries = [pointsLB1, pointsLB2, pointsLB3, pointsLB4, pointsLB6];

const width = 1493;
const height = 697;
const panel = { left: 72, right: 1505, top: 8, bottom: 644 };

const x = d3.scalePoint().domain(categories).range([236.5, 1339]);
const y = d3.scaleLinear().domain([-0.68, 14.69]).range([panel.bottom, panel.top]);
const step = x.step();
const boxHalf = step * 0.375;

const svg = d3.select("#chart").append("svg")
  .attr("width", width)
  .attr("height", height)
  .style("display", "block");

drawBackground();
drawBoxes();
drawPoints();
drawAxes();
drawToast();

function drawBackground() {
  svg.append("rect").attr("x", 0).attr("y", 605).attr("width", 4).attr("height", 92).attr("fill", "#dfe9f5");

  svg.append("rect")
    .attr("x", panel.left).attr("y", panel.top)
    .attr("width", panel.right - panel.left).attr("height", panel.bottom - panel.top)
    .attr("fill", "#fafafa");

  // highlighted column behind LB2, runs off the bottom of the page
  svg.append("rect")
    .attr("x", x(categories[1]) - 141).attr("y", panel.top)
    .attr("width", 273).attr("height", height - panel.top)
    .attr("fill", "#edf0f5");

  svg.selectAll(".minor").data(minorTicks).join("line")
    .attr("x1", panel.left).attr("x2", panel.right)
    .attr("y1", d => y(d)).attr("y2", d => y(d))
    .attr("stroke", "#e6e6e6").attr("stroke-width", 1.5).attr("stroke-dasharray", "2 7");

  svg.selectAll(".major").data(majorTicks.filter(d => d > 0)).join("line")
    .attr("x1", panel.left).attr("x2", panel.right)
    .attr("y1", d => y(d)).attr("y2", d => y(d))
    .attr("stroke", "#e6e6e9").attr("stroke-width", 3);

  svg.selectAll(".vertical").data(categories).join("line")
    .attr("x1", d => x(d)).attr("x2", d => x(d))
    .attr("y1", panel.top).attr("y2", panel.bottom)
    .attr("stroke", "#e6e6e9").attr("stroke-width", 3);

  svg.append("line")
    .attr("x1", panel.left).attr("x2", panel.right)
    .attr("y1", y(0)).attr("y2", y(0))
    .attr("stroke", "#9a9a9a").attr("stroke-width", 2);
}

function drawBoxes() {
  const boxes = svg.selectAll(".box").data(categories).join("g").attr("class", "box");

  boxes.append("line")
    .attr("x1", d => x(d)).attr("x2", d => x(d))
    .attr("y1", (d, i) => y(whiskerHighs[i])).attr("y2", (d, i) => y(whiskerLows[i]))
    .attr("stroke", "#484848").attr("stroke-width", 2);

  boxes.append("rect")
    .attr("x", d => x(d) - boxHalf).attr("width", boxHalf * 2)
    .attr("y", (d, i) => y(upperQuartiles[i]))
    .attr("height", (d, i) => y(lowerQuartiles[i]) - y(upperQuartiles[i]))
    .attr("fill", (d, i) => boxColors[i])
    .attr("stroke", "#555").attr("stroke-width", 2);

  boxes.append("line")
    .attr("x1", d => x(d) - boxHalf).attr("x2", d => x(d) + boxHalf)
    .attr("y1", (d, i) => y(medians[i])).attr("y2", (d, i) => y(medians[i]))
    .attr("stroke", "#404040").attr("stroke-width", 4);
}

function drawPoints() {
  categories.forEach((category, i) => {
    svg.append("g").selectAll("circle").data(pointSeries[i]).join("circle")
      .attr("cx", d => x(category) + d[0] * step)
      .attr("cy", d => y(d[1]))
      .attr("r", 2.4)
      .attr("fill", i === 1 ? "#222" : "#000");
  });
}

function drawAxes() {
  svg.append("path")
    .attr("d", `M${width + 5},${panel.top}H${panel.left}V${panel.bottom}H${width + 5}`)
    .attr("fill", "none").attr("stroke", "#666").attr("stroke-width", 1.5);

  const yAxis = svg.append("g")
    .attr("transform", `translate(${panel.left},0)`)
    .call(d3.axisLeft(y).tickValues(majorTicks).tickFormat(d3.format("d")).tickSize(6).tickPadding(5));
  yAxis.select(".domain").remove();
  yAxis.selectAll("line").attr("stroke", "#555").attr("stroke-width", 2);
  yAxis.selectAll("text")
    .attr("fill", "#6b6b6b")
    .style("font", "16px 'DejaVu Sans', sans-serif");

  const xAxis = svg.append("g")
    .attr("transform", `translate(0,${panel.bottom})`)
    .call(d3.axisBottom(x).tickSize(6).tickPadding(5));
  xAxis.select(".domain").remove();
  xAxis.selectAll("line").attr("stroke", "#555").attr("stroke-width", 2);
  xAxis.selectAll("text")
    .attr("fill", (d, i) => (i === 1 ? "#6b6e73" : "#555"))
    .style("font", "bold 19px 'DejaVu Sans', sans-serif");

  svg.append("text")
    .attr("x", x(categories[2])).attr("y", 694)
    .attr("text-anchor", "middle")
    .style("font", "bold 18.3px 'DejaVu Sans', sans-serif")
    .text(xTitle);

  svg.append("text")
    .attr("transform", "translate(30,336) rotate(-90)")
    .attr("text-anchor", "middle")
    .style("font", "bold 17px 'DejaVu Sans', sans-serif")
    .text(yTitle);
}

function drawToast() {
  const toast = svg.append("g");
  toast.append("rect").attr("x", 386).attr("y", 500).attr("width", 808).attr("height", 117).attr("fill", "#2b3044");
  toast.append("rect")
    .attr("x", 400.5).attr("y", 513.5).attr("width", 776).attr("height", 85).attr("rx", 5)
    .attr("fill", "none").attr("stroke", "#a9bdcc").attr("stroke-width", 1);

  toast.append("circle").attr("cx", 437).attr("cy", 555.5).attr("r", 17.5).attr("fill", "#a9bdcc");
  toast.append("rect").attr("x", 434).attr("y", 545).attr("width", 6).attr("height", 13).attr("rx", 1).attr("fill", "#2b3044");
  toast.append("rect").attr("x", 434).attr("y", 561).attr("width", 6).attr("height", 5).attr("rx", 1).attr("fill", "#2b3044");

  toast.append("text").attr("x", 474).attr("y", 546)
    .attr("fill", "#fff")
    .style("font", "bold 16.7px 'Open Sans', sans-serif")
    .text(toastTitle);
  toast.append("text").attr("x", 474).attr("y", 578)
    .attr("fill", "#f2f4f7")
    .style("font", "16.7px 'Open Sans', sans-serif")
    .text(toastText);
}
</script>
</body>
</html>
